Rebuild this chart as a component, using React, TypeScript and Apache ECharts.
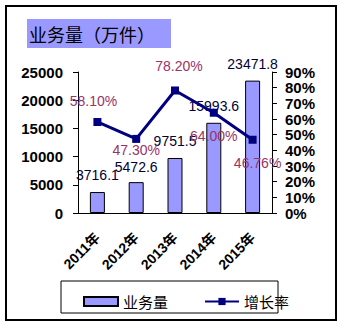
import React, { useEffect, useRef } from "react";
import * as echarts from "echarts";

// Annual parcel volume (10k pieces) and its year-on-year growth rate
const years = ["2011年", "2012年", "2013年", "2014年", "2015年"];
const volume = [3716.1, 5472.6, 9751.5, 15993.6, 23471.8];
const growth = [58.1, 47.3, 78.2, 64.0, 46.76];

// where each growth label sits relative to its point
const growthLabelPos = [
  { position: "top", distance: 10, offset: [-4, 0] },
  { position: "bottom", distance: 0, offset: [0, 0] },
  { position: "top", distance: 14, offset: [4, 0] },
  { position: "bottom", distance: 12, offset: [0, 0] },
  { position: "bottom", distance: 12, offset: [5, 0] },
];
// gap between each bar top and its value label
const volumeLabelGap = [10, 8, 10, 10, 10];

const FONT = "Liberation Sans, Arial, Noto Sans CJK SC, sans-serif";
const CJK = "Noto Sans CJK SC, sans-serif";

export default function App() {
  const ref = useRef<HTMLDivElement>(null);

  useEffect(() => {
    if (!ref.current) return;
    const chart = echarts.init(ref.current, null, { renderer: "svg" });
    chart.setOption({
      animation: false,
      backgroundColor: "#fff",
      grid: { left: 78, right: 73, top: 72, bottom: 116 },
      graphic: [
        {
          type: "rect",
          shape: { x: 6, y: 6, width: 330, height: 314 },
          style: { fill: "none", stroke: "#000", lineWidth: 2 },
          z: 0,
        },
        {
          type: "rect",
          shape: { x: 27, y: 19, width: 144, height: 29 },
          style: { fill: "#9999FF" },
        },
        {
          type: "text",
          x: 29,
          y: 34,
          style: {
            text: "业务量（万件）",
            fill: "#000",
            font: `18px ${CJK}`,
            verticalAlign: "middle",
          },
        },
        {
          type: "rect",
          shape: { x: 61, y: 281, width: 217, height: 32 },
          style: { fill: "#fff", stroke: "#000", lineWidth: 1 },
          z: 0,
        },
      ],
      legend: {
        left: 78,
        top: 289,
        itemWidth: 34,
        itemHeight: 9,
        itemGap: 36,
        textStyle: { fontSize: 15, fontFamily: CJK, color: "#000" },
        data: [
          { name: "业务量", icon: "rect" },
          { name: "增长率" },
        ],
      },
      xAxis: {
        type: "category",
        data: years,
        boundaryGap: true,
        axisLine: { lineStyle: { color: "#000", width: 1 } },
        axisTick: { inside: true, length: 5, lineStyle: { color: "#000" } },
        axisLabel: {
          rotate: 45,
          margin: 22,
          color: "#000",
          fontSize: 14,
          fontWeight: "bold",
          fontFamily: FONT,
        },
      },
      yAxis: [
        {
          type: "value",
          min: 0,
          max: 25000,
          interval: 5000,
          splitLine: { show: false },
          axisLine: { show: true, lineStyle: { color: "#000" } },
          axisTick: { show: true, length: 5, lineStyle: { color: "#000" } },
          axisLabel: {
            margin: 15,
            formatter: (v: number) => String(v),
            color: "#000",
            fontSize: 15,
            fontWeight: "bold",
            fontFamily: FONT,
          },
        },
        {
          type: "value",
          min: 0,
          max: 90,
          interval: 10,
          splitLine: { show: false },
          axisLine: { show: true, lineStyle: { color: "#000" } },
          axisTick: { show: true, length: 5, lineStyle: { color: "#000" } },
          axisLabel: {
            margin: 13,
            formatter: "{value}%",
            color: "#000",
            fontSize: 15,
            fontWeight: "bold",
            fontFamily: FONT,
          },
        },
      ],
      series: [
        {
          name: "业务量",
          type: "bar",
          yAxisIndex: 0,
          barWidth: 15,
          data: volume.map((v, i) => ({
            value: v,
            label: { distance: volumeLabelGap[i] },
          })),
          itemStyle: { color: "#9999FF", borderColor: "#000", borderWidth: 1 },
          label: {
            show: true,
            position: "top",
            color: "#000033",
            fontSize: 14,
            fontFamily: FONT,
            formatter: (p: any) => p.value.toFixed(1),
          },
        },
        {
          name: "增长率",
          type: "line",
          yAxisIndex: 1,
          symbol: "rect",
          symbolSize: 8,
          lineStyle: { color: "#000080", width: 3 },
          itemStyle: { color: "#000080" },
          data: growth.map((v, i) => ({
            value: v,
            label: growthLabelPos[i],
          })),
          label: {
            show: true,
            color: "#993366",
            fontSize: 14,
            fontFamily: FONT,
            formatter: (p: any) => p.value.toFixed(2) + "%",
          },
          z: 5,
        },
      ],
    });
    return () => chart.dispose();
  }, []);

  return (
    <div
      ref={ref}
      style={{ position: "fixed", left: 0, top: 0, width: 345, height: 329 }}
    />
  );
}
